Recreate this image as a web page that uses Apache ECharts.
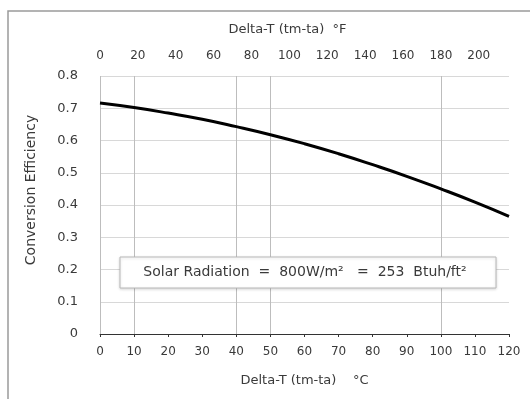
<!DOCTYPE html>
<html>
<head>
<meta charset="utf-8">
<script src="https://cdn.jsdelivr.net/npm/echarts@6/dist/echarts.min.js"></script>
<style>
  html, body { margin: 0; padding: 0; background: #fff; }
  #chart { width: 530px; height: 399px; }
</style>
</head>
<body>
<div id="chart"></div>
<script>
// Delta-T in deg C and read-off efficiency
const deltaC = [0, 10, 20, 30, 40, 50, 60, 70, 80, 90, 100, 110, 120];
const efficiency = [0.716, 0.702, 0.685, 0.666, 0.643, 0.618, 0.590, 0.559, 0.525, 0.489, 0.450, 0.409, 0.365];
// the few vertical guide lines visible in the original
const guideC = [0, 10, 40, 50, 100];
const noteText = 'Solar Radiation  =  800W/m\u00b2   =  253  Btuh/ft\u00b2';

const chartDom = document.getElementById('chart');
const myChart = echarts.init(chartDom);
const txt = '#3a3a3a';
const font = '"DejaVu Sans", Verdana, sans-serif';

myChart.setOption({
    animation: false,
    textStyle: { fontFamily: font },
    grid: { left: 100, right: 21, top: 76, bottom: 65, outerBoundsMode: 'none', containLabel: false },
    xAxis: [
        {
            type: 'value', position: 'bottom', min: 0, max: 120, interval: 10,
            name: 'Delta-T (tm-ta)    \u00b0C', nameLocation: 'middle', nameGap: 40,
            nameTextStyle: { color: txt, fontSize: 13, fontFamily: font },
            axisLine: { lineStyle: { color: '#333', width: 1 } },
            axisTick: { length: 3, lineStyle: { color: '#333' } },
            axisLabel: { color: txt, fontSize: 12, margin: 12, fontFamily: font },
            splitLine: { show: false }
        },
        {
            type: 'value', position: 'top', min: 0, max: 216, interval: 20,
            name: 'Delta-T (tm-ta)  \u00b0F', nameLocation: 'middle', nameGap: 40,
            nameTextStyle: { color: txt, fontSize: 13, fontFamily: font, padding: [0, 34, 0, 0] },
            axisLine: { show: false },
            axisTick: { show: false },
            axisLabel: { color: txt, fontSize: 12, margin: 14, showMaxLabel: false, fontFamily: font },
            splitLine: { show: false }
        }
    ],
    yAxis: {
        type: 'value', min: 0, max: 0.8, interval: 0.1,
        name: 'Conversion Efficiency', nameLocation: 'middle', nameGap: 62,
        nameTextStyle: { color: txt, fontSize: 14, fontFamily: font, padding: [0, 0, 0, 30] },
        axisLine: { show: false },
        axisTick: { show: false },
        axisLabel: { color: txt, fontSize: 13, margin: 22, fontFamily: font },
        splitLine: { lineStyle: { color: '#d8d8d8', width: 1 } }
    },
    graphic: [
        {
            type: 'rect', silent: true, z: -1,
            shape: { x: 8, y: 11, width: 540, height: 400 },
            style: { fill: 'none', stroke: '#9a9a9a', lineWidth: 1.5 }
        },
        {
            type: 'rect', z: 100,
            shape: { x: 120, y: 257, width: 376, height: 31 },
            style: { fill: '#fff', stroke: '#b8b8b8', lineWidth: 1, shadowBlur: 3, shadowColor: 'rgba(0,0,0,0.15)', shadowOffsetY: 1 }
        },
        {
            type: 'text', z: 101, x: 305, y: 272,
            style: { text: noteText, fill: txt, font: '14px ' + font, align: 'center', verticalAlign: 'middle' }
        }
    ],
    series: [
        {
            type: 'line',
            xAxisIndex: 0,
            data: deltaC.map((c, i) => [c, efficiency[i]]),
            smooth: true,
            showSymbol: false,
            lineStyle: { color: '#000', width: 3 },
            z: 10,
            markLine: {
                silent: true, symbol: 'none', label: { show: false },
                lineStyle: { color: '#bdbdbd', width: 1, type: 'solid' },
                data: guideC.map(v => ({ xAxis: v }))
            }
        }
    ]
});
</script>
</body>
</html>
